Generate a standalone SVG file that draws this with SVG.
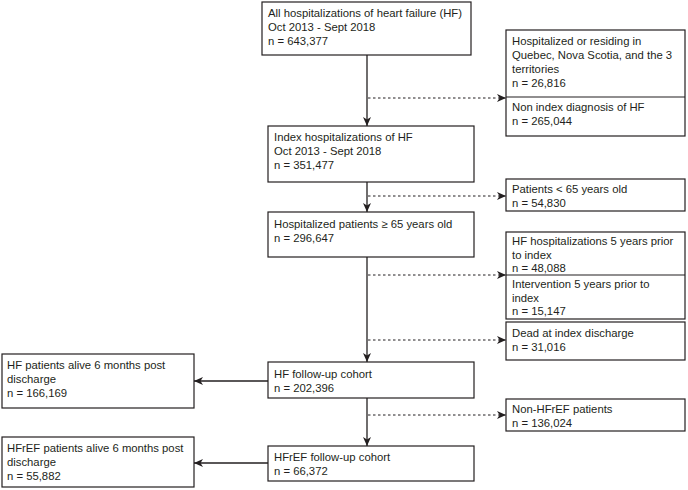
<svg xmlns="http://www.w3.org/2000/svg" width="688" height="490" viewBox="0 0 688 490">
<defs>
<marker id="ah" markerWidth="10" markerHeight="8" refX="9" refY="4" orient="auto" markerUnits="userSpaceOnUse">
<path d="M0,0 L9,4 L0,8 L2.5,4 Z" fill="#231f20"/>
</marker>
<style>
rect{fill:#fff;stroke:#231f20;stroke-width:1.2}
.dv{stroke:#231f20;stroke-width:1.2}
text{font-family:"Liberation Sans",Arial,sans-serif;font-size:11.3px;fill:#231f20}
.s{stroke:#231f20;stroke-width:1.3;fill:none}
.d{stroke:#231f20;stroke-width:1;fill:none;stroke-dasharray:2.5 2.5}
</style>
</defs>
<rect x="0" y="0" width="688" height="490" style="fill:#fff;stroke:none"/>
<g id="connectors">
<line class="s" x1="367" y1="55" x2="367" y2="126" marker-end="url(#ah)"/>
<line class="s" x1="367" y1="182" x2="367" y2="212" marker-end="url(#ah)"/>
<line class="s" x1="367" y1="257" x2="367" y2="362" marker-end="url(#ah)"/>
<line class="s" x1="367" y1="398" x2="367" y2="446" marker-end="url(#ah)"/>
<line class="d" x1="368" y1="98" x2="506" y2="98" marker-end="url(#ah)"/>
<line class="d" x1="368" y1="196" x2="506" y2="196" marker-end="url(#ah)"/>
<line class="d" x1="368" y1="275" x2="506" y2="275" marker-end="url(#ah)"/>
<line class="d" x1="368" y1="340" x2="506" y2="340" marker-end="url(#ah)"/>
<line class="d" x1="368" y1="415" x2="506" y2="415" marker-end="url(#ah)"/>
<line class="s" x1="268" y1="381" x2="194" y2="381" marker-end="url(#ah)"/>
<line class="s" x1="268" y1="463" x2="194" y2="463" marker-end="url(#ah)"/>
</g>
<g id="all-hf">
<rect x="262" y="2" width="209" height="53"/>
<text x="268" y="17">All hospitalizations of heart failure (HF)</text>
<text x="268" y="31">Oct 2013 - Sept 2018</text>
<text x="268" y="45">n = 643,377</text>
</g>
<g id="excl-region">
<rect x="506" y="30" width="179" height="106"/>
<line class="dv" x1="506" y1="97" x2="685" y2="97"/>
<text x="512" y="45">Hospitalized or residing in</text>
<text x="512" y="59">Quebec, Nova Scotia, and the 3</text>
<text x="512" y="73">territories</text>
<text x="512" y="87">n = 26,816</text>
<text x="512" y="111">Non index diagnosis of HF</text>
<text x="512" y="125">n = 265,044</text>
</g>
<g id="index-hf">
<rect x="268" y="126" width="206" height="56"/>
<text x="274" y="141">Index hospitalizations of HF</text>
<text x="274" y="155">Oct 2013 - Sept 2018</text>
<text x="274" y="169">n = 351,477</text>
</g>
<g id="excl-age">
<rect x="506" y="179" width="179" height="32"/>
<text x="512" y="193">Patients &lt; 65 years old</text>
<text x="512" y="206.5">n = 54,830</text>
</g>
<g id="age65">
<rect x="268" y="212" width="206" height="45"/>
<text x="274" y="228">Hospitalized patients ≥ 65 years old</text>
<text x="274" y="242">n = 296,647</text>
</g>
<g id="excl-prior">
<rect x="506" y="232" width="179" height="87"/>
<line class="dv" x1="506" y1="275" x2="685" y2="275"/>
<text x="512" y="245">HF hospitalizations 5 years prior</text>
<text x="512" y="258.5">to index</text>
<text x="512" y="272">n = 48,088</text>
<text x="512" y="288">Intervention 5 years prior to</text>
<text x="512" y="301.5">index</text>
<text x="512" y="315">n = 15,147</text>
</g>
<g id="excl-dead">
<rect x="506" y="322" width="179" height="38"/>
<text x="512" y="337">Dead at index discharge</text>
<text x="512" y="351">n = 31,016</text>
</g>
<g id="hf-cohort">
<rect x="268" y="362" width="206" height="36"/>
<text x="274" y="378">HF follow-up cohort</text>
<text x="274" y="392">n = 202,396</text>
</g>
<g id="excl-nonhfref">
<rect x="506" y="399" width="179" height="32"/>
<text x="512" y="413">Non-HFrEF patients</text>
<text x="512" y="426.5">n = 136,024</text>
</g>
<g id="hfref-cohort">
<rect x="268" y="446" width="206" height="35"/>
<text x="274" y="461">HFrEF follow-up cohort</text>
<text x="274" y="475">n = 66,372</text>
</g>
<g id="hf-alive">
<rect x="2" y="354" width="192" height="54"/>
<text x="7" y="369">HF patients alive 6 months post</text>
<text x="7" y="383">discharge</text>
<text x="7" y="397">n = 166,169</text>
</g>
<g id="hfref-alive">
<rect x="2" y="437" width="192" height="50"/>
<text x="7" y="452">HFrEF patients alive 6 months post</text>
<text x="7" y="466">discharge</text>
<text x="7" y="480">n = 55,882</text>
</g>
</svg>
